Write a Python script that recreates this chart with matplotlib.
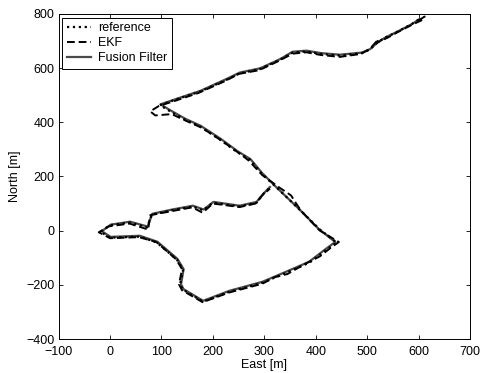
import matplotlib
matplotlib.use("Agg")
import matplotlib.pyplot as plt

plt.rcParams['font.family'] = ['Liberation Sans', 'DejaVu Sans']

# reference trajectory (East, North) in metres
ref_e = [600, 585, 560, 535, 520, 505, 490, 447, 410, 382, 355, 330, 291, 252,
         227, 175, 130, 97, 117, 145, 175, 214, 247, 272, 295, 324, 369, 408,
         441, 421, 388, 343, 297, 233, 181, 142, 136, 142, 130, 91, 58, 0,
         -19, 0, 39, 72, 81, 120, 161, 181, 200, 252, 285, 297, 311]
ref_n = [778, 760, 735, 712, 694, 668, 655, 646, 652, 661, 657, 630, 596, 580,
         557, 513, 485, 463, 440, 410, 384, 336, 290, 262, 210, 159, 77, 4,
         -44, -70, -118, -155, -192, -225, -262, -218, -200, -144, -107, -44, -22, -26,
         -4, 20, 30, 12, 59, 75, 89, 75, 103, 89, 103, 133, 159]

# EKF estimate
ekf_e = [600, 612, 605, 590, 565, 540, 532, 518, 522, 505, 488, 447, 410, 382,
         355, 328, 290, 250, 225, 172, 128, 95, 78, 88, 120, 148, 178, 216,
         250, 262, 270, 296, 330, 352, 362, 372, 408, 445, 430, 408, 380, 345,
         320, 296, 232, 180, 140, 134, 140, 128, 90, 56, 0, -22, -2, 38,
         74, 78, 120, 160, 180, 200, 252, 283, 296, 311]
ekf_n = [775, 790, 775, 762, 738, 712, 705, 692, 706, 670, 652, 641, 648, 658,
         653, 626, 592, 578, 553, 508, 480, 460, 440, 425, 430, 405, 380, 333,
         287, 270, 258, 205, 158, 130, 100, 72, 0, -42, -62, -95, -122, -160,
         -172, -196, -228, -264, -220, -198, -142, -105, -42, -24, -28, -6, 16, 26,
         4, 57, 72, 86, 66, 100, 87, 100, 130, 155]

# fusion filter estimate
fus_e = [602, 588, 562, 537, 522, 506, 490, 447, 410, 382, 355, 331, 292, 252,
         227, 176, 132, 98, 118, 146, 176, 215, 248, 273, 296, 323, 368, 406,
         438, 420, 387, 342, 296, 232, 181, 143, 138, 143, 131, 92, 58, 1,
         -16, 1, 39, 73, 82, 121, 161, 182, 201, 252, 285, 298, 311]
fus_n = [781, 763, 737, 714, 697, 670, 657, 649, 655, 664, 660, 633, 599, 583,
         560, 516, 488, 466, 443, 413, 387, 339, 293, 264, 212, 161, 79, 6,
         -42, -67, -115, -152, -189, -222, -259, -216, -198, -142, -104, -41, -19, -23,
         -2, 22, 33, 15, 62, 78, 92, 78, 106, 92, 106, 136, 161]

fig = plt.figure(figsize=(4.81, 3.73), dpi=100)
ax = fig.add_axes([0.122, 0.091, 0.855, 0.872])

ax.plot(ref_e, ref_n, color='black', linestyle=':', linewidth=1.6,
        label='reference', zorder=3)
ax.plot(ekf_e, ekf_n, color='black', linestyle='--', linewidth=1.4,
        dashes=(4, 2), label='EKF', zorder=4)
ax.plot(fus_e, fus_n, color='#4a4a4a', linestyle='-', linewidth=1.6,
        label='Fusion Filter', zorder=2)

ax.set_xlim(-100, 700)
ax.set_ylim(-400, 800)
ax.set_xticks(range(-100, 701, 100))
ax.set_yticks(range(-400, 801, 200))
ax.tick_params(direction='in', top=True, right=True, labelsize=9, length=3,
               width=0.6)
ax.tick_params(axis='x', pad=5)
ax.tick_params(axis='y', pad=3)
for s in ax.spines.values():
    s.set_linewidth(0.7)
ax.set_xlabel('East [m]', fontsize=9, labelpad=1)
ax.set_ylabel('North [m]', fontsize=9, labelpad=4)

leg = ax.legend(loc='upper left', fontsize=9, handlelength=1.9, handletextpad=0.6,
                borderaxespad=0.3, borderpad=0.35, labelspacing=0.25, fancybox=False,
                framealpha=1, edgecolor='black')
leg.get_frame().set_linewidth(0.7)

plt.savefig('out.png', dpi=100)
